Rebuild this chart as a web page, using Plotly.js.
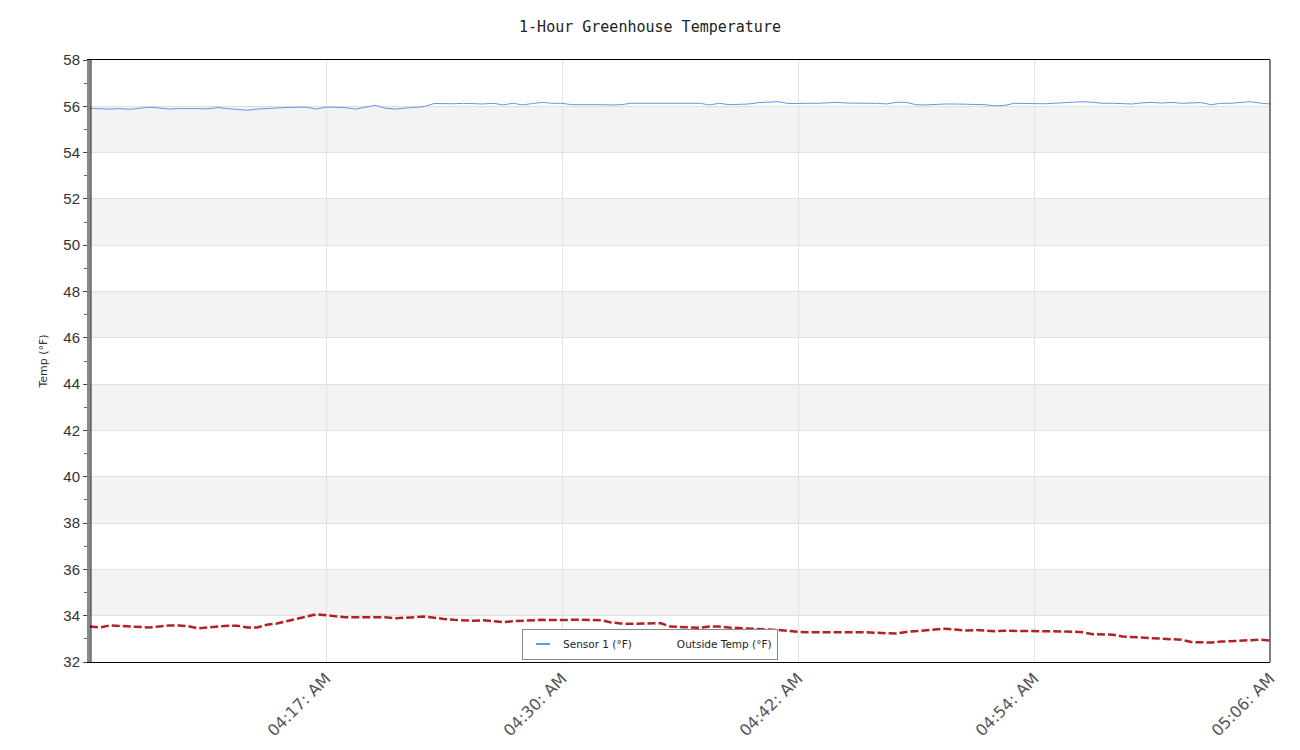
<!DOCTYPE html>
<html>
<head>
<meta charset="utf-8">
<script src="https://cdn.plot.ly/plotly-3.0.1.min.js"></script>
<style>html,body{margin:0;padding:0;background:#fff;}#chart{width:1300px;height:750px;}</style>
</head>
<body>
<div id="chart"></div>
<script>
// Samples every 30 s over one hour (index 0..120)
const sensor1 = [
55.91,55.89,55.88,55.90,55.87,55.91,55.96,55.93,55.88,55.90,
55.91,55.90,55.89,55.95,55.90,55.86,55.83,55.88,55.91,55.93,
55.95,55.96,55.96,55.88,55.96,55.96,55.94,55.88,55.96,56.04,
55.92,55.88,55.92,55.96,55.99,56.12,56.10,56.11,56.13,56.12,
56.10,56.13,56.06,56.13,56.06,56.12,56.17,56.13,56.13,56.07,
56.08,56.09,56.07,56.06,56.07,56.13,56.13,56.13,56.15,56.16,
56.15,56.13,56.13,56.06,56.13,56.07,56.08,56.10,56.16,56.19,
56.20,56.12,56.11,56.13,56.13,56.14,56.17,56.14,56.14,56.16,
56.13,56.10,56.17,56.17,56.07,56.06,56.09,56.10,56.10,56.10,
56.10,56.07,56.02,56.04,56.13,56.12,56.10,56.11,56.13,56.15,
56.18,56.20,56.17,56.13,56.13,56.13,56.10,56.15,56.17,56.14,
56.17,56.13,56.15,56.16,56.07,56.13,56.13,56.17,56.20,56.14,
56.10];
const outsideTemp = [
33.53,33.49,33.58,33.55,33.53,33.51,33.49,33.53,33.58,33.58,
33.55,33.45,33.50,33.54,33.57,33.57,33.49,33.49,33.61,33.66,
33.76,33.86,33.96,34.06,34.02,33.96,33.93,33.93,33.93,33.93,
33.93,33.89,33.90,33.93,33.96,33.90,33.86,33.82,33.80,33.78,
33.80,33.75,33.72,33.76,33.79,33.80,33.82,33.81,33.80,33.82,
33.83,33.82,33.80,33.71,33.66,33.65,33.65,33.65,33.68,33.53,
33.52,33.50,33.48,33.53,33.53,33.49,33.46,33.43,33.41,33.40,
33.38,33.33,33.30,33.28,33.28,33.28,33.28,33.30,33.30,33.28,
33.26,33.23,33.23,33.30,33.33,33.36,33.40,33.44,33.40,33.36,
33.38,33.36,33.33,33.35,33.35,33.32,33.32,33.32,33.32,33.32,
33.31,33.28,33.20,33.20,33.18,33.10,33.08,33.06,33.02,32.99,
32.98,32.96,32.86,32.85,32.84,32.88,32.90,32.93,32.95,32.96,
32.93];
const tickIndex = [24, 48, 72, 96, 120];
const tickLabels = ["04:17: AM", "04:30: AM", "04:42: AM", "04:54: AM", "05:06: AM"];
const yTicks = [32,34,36,38,40,42,44,46,48,50,52,54,56,58];
const bandStarts = [34, 38, 42, 46, 50, 54];

const xIdx = sensor1.map((v, i) => i);

const shapes = bandStarts.map(b => ({
  type: 'rect', xref: 'paper', yref: 'y', x0: 0, x1: 1, y0: b, y1: b + 2,
  fillcolor: '#f3f3f3', line: {width: 0}, layer: 'below'
}));
shapes.push({type: 'line', xref: 'paper', yref: 'paper', x0: 1, x1: 1, y0: 0, y1: 1,
             line: {color: '#000', width: 1}, layer: 'above'});
shapes.push({type: 'line', xref: 'paper', yref: 'paper', x0: 0.0008, x1: 0.0008, y0: 0, y1: 1,
             line: {color: '#000', width: 1}, layer: 'above'});

const traces = [
  {x: xIdx, y: sensor1, type: 'scatter', mode: 'lines', name: 'Sensor 1 (°F)',
   line: {color: '#6495ed', width: 1}, showlegend: false},
  {x: xIdx, y: outsideTemp, type: 'scatter', mode: 'lines', name: 'Outside Temp (°F)',
   line: {color: '#b22222', width: 2.5, dash: '8px,3px'}, showlegend: false},
  {x: [null], y: [null], type: 'scatter', mode: 'markers', name: 'Sensor 1 (°F)',
   marker: {symbol: 'line-ew', size: 10, color: '#6495ed', line: {color: '#6495ed', width: 2}}},
  {x: [null], y: [null], type: 'scatter', mode: 'markers', name: 'Outside Temp (°F)',
   marker: {symbol: 'line-ew', size: 10, color: 'rgba(0,0,0,0)', line: {color: 'rgba(0,0,0,0)', width: 0}}}
];

const layout = {
  width: 1300, height: 750,
  margin: {l: 90, r: 30, t: 60, b: 88},
  paper_bgcolor: '#fff', plot_bgcolor: '#fff',
  title: {text: '1-Hour Greenhouse Temperature', x: 0.5, xanchor: 'center', y: 0.964, yanchor: 'middle',
          font: {family: 'DejaVu Sans Mono', size: 15, color: '#222'}},
  shapes: shapes,
  showlegend: true,
  legend: {orientation: 'h', x: 0.4746, xanchor: 'center', y: 0.004, yanchor: 'bottom',
           bgcolor: '#fff', bordercolor: '#888', borderwidth: 1,
           font: {family: 'DejaVu Sans', size: 10.5, color: '#222'}, itemwidth: 30},
  xaxis: {
    range: [0, 120], tickmode: 'array', tickvals: tickIndex, ticktext: tickLabels,
    tickangle: -45, showgrid: true, gridcolor: '#e3e3e3', gridwidth: 1,
    zeroline: false, showline: true, linecolor: '#000', linewidth: 1, mirror: true,
    ticks: '', tickfont: {family: 'DejaVu Sans', size: 16, color: '#555'}
  },
  yaxis: {
    range: [32, 58], tickmode: 'array', tickvals: yTicks,
    showgrid: true, gridcolor: '#e0e0e0', gridwidth: 1, zeroline: false,
    showline: true, linecolor: '#888', linewidth: 3, mirror: false,
    ticks: 'outside', ticklen: 4, tickcolor: '#444',
    minor: {dtick: 1, ticks: 'outside', ticklen: 3, tickcolor: '#666', showgrid: false},
    tickfont: {family: 'Liberation Sans', size: 15, color: '#333'},
    title: {text: 'Temp (°F)', standoff: 14, font: {family: 'DejaVu Sans', size: 11, color: '#333'}}
  }
};

Plotly.newPlot('chart', traces, layout, {displayModeBar: false, staticPlot: true});
</script>
</body>
</html>
